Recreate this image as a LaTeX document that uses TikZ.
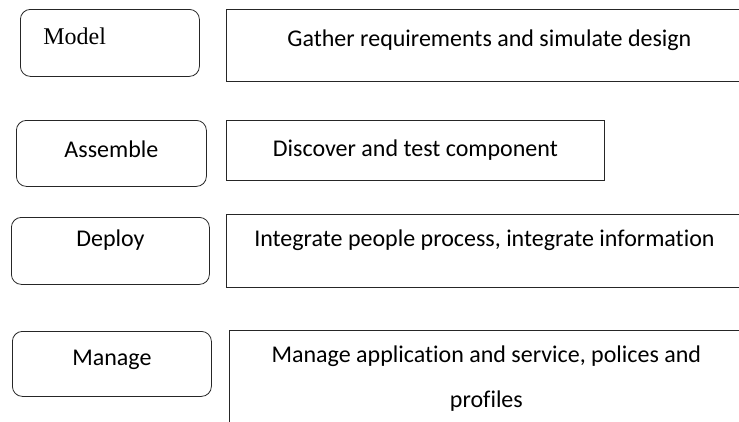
\documentclass[tikz,border=0pt]{standalone}
\usepackage{fontspec}
\setmainfont{Carlito}[Ligatures={NoCommon}]
\newfontfamily\timesfont{Liberation Serif}
\begin{document}
\begin{tikzpicture}[x=1pt,y=-1pt,
    stage/.style={draw=black!85,line width=0.8pt,rounded corners=10pt,
      anchor=north west,inner sep=0pt,text height=16pt,font=\fontsize{24}{29}\selectfont},
    task/.style={draw=black!85,line width=0.8pt,anchor=north west,inner sep=0pt,
      align=center,text height=16pt,font=\fontsize{24}{45}\selectfont}]
  \clip (0,0) rectangle (739,421);
  \fill[white] (0,0) rectangle (739,421);
  \draw
    (20,9) node[stage,minimum width=179pt,minimum height=67pt,text depth=13pt,
      text width=133pt,inner xsep=23pt,align=left,font=\timesfont\fontsize{24}{29}\selectfont] (model){Model}
    (16,120) node[stage,minimum width=190pt,minimum height=66pt,text depth=8.6pt] (assemble){Assemble}
    (11,217) node[stage,minimum width=198pt,minimum height=67pt,text depth=24pt] (deploy){Deploy}
    (12,331) node[stage,minimum width=199pt,minimum height=65pt,text depth=13pt] (manage){Manage};
  \draw
    (226,9) node[task,minimum width=526pt,minimum height=72pt,text depth=14pt] (gather){Gather requirements and simulate design}
    (226,120) node[task,minimum width=378pt,minimum height=60pt,text depth=4pt] (discover){Discover and test component}
    (226,214) node[task,minimum width=516pt,minimum height=73pt,text depth=25pt] (integrate){Integrate people process, integrate information}
    (229,330) node[task,minimum width=514pt,minimum height=110pt,text height=60pt,text depth=16.6pt] (policies){Manage application and service, polices and\\profiles};
\end{tikzpicture}
\end{document}
